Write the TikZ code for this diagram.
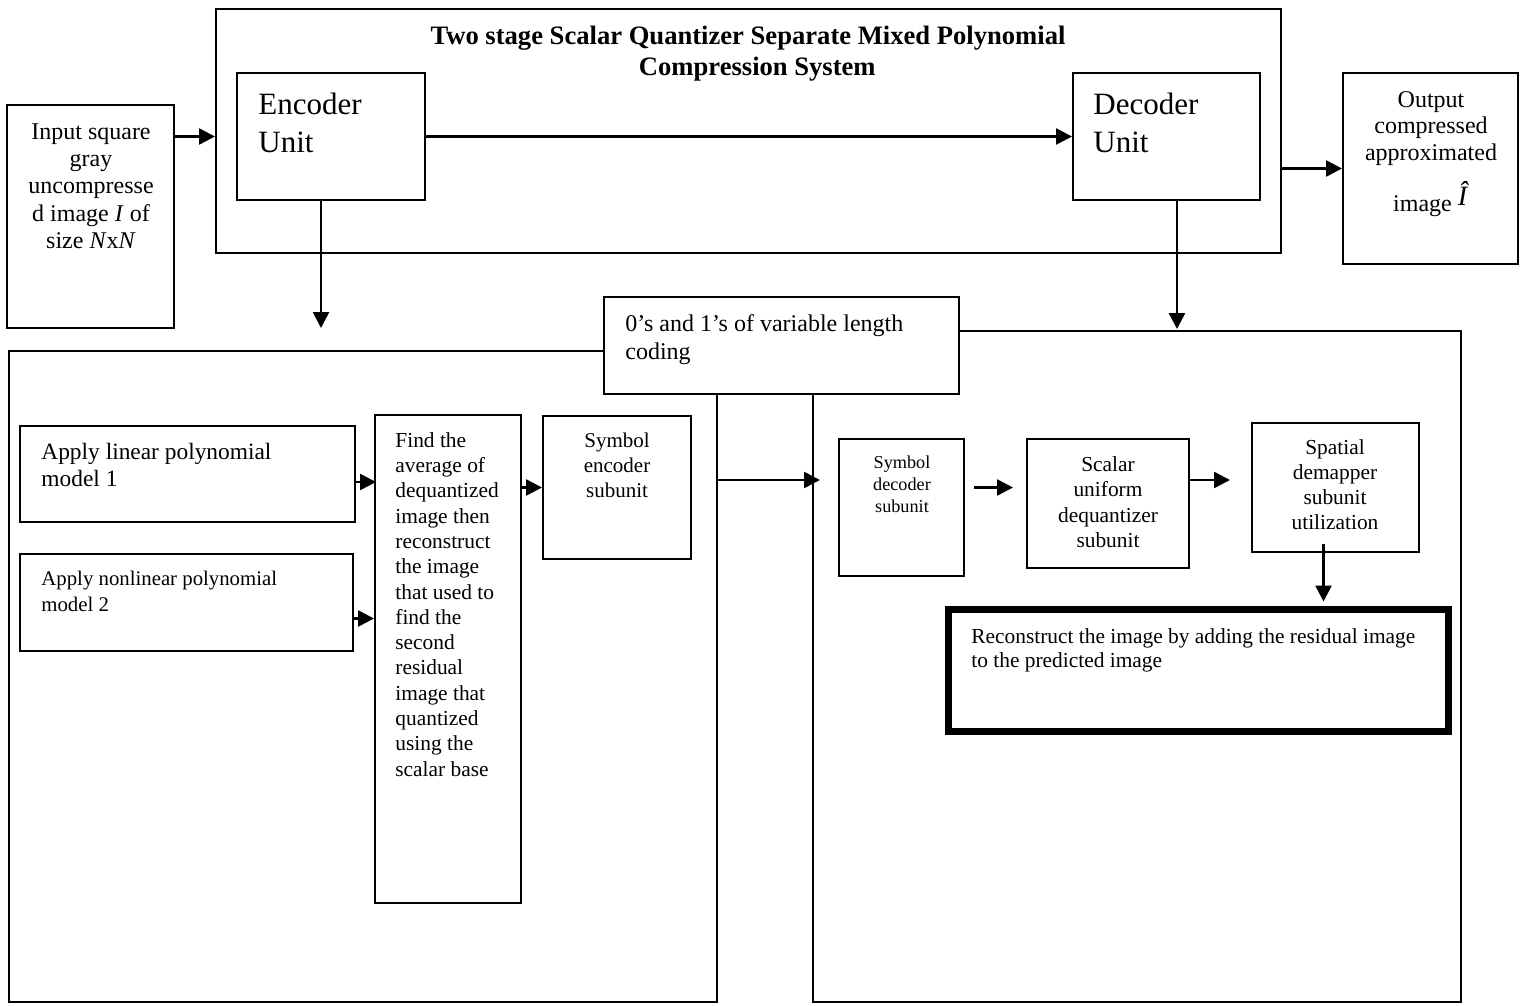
\documentclass[tikz,border=0pt]{standalone}
\usepackage{fontspec}
\setmainfont{Liberation Serif}
\usetikzlibrary{arrows.meta,fit}

\begin{document}
\begin{tikzpicture}[x=0.5pt,y=-0.5pt,
  box/.style={draw, line width=1pt, inner sep=0pt, fill=white},
  arr/.style={line width=1.3pt, -{Triangle[length=8pt,width=8pt]}},
  txt/.style={inner sep=0pt, align=#1},
  txt/.default=center]
\useasboundingbox (0,0) rectangle (1520,1006);
\node[box, fit={(216,9) (1281,253)}] (sys) {};
\node[box, fit={(7,105) (174,328)}] (inp) {};
\node[box, fit={(237,73) (425,200)}] (enc) {};
\node[box, fit={(1073,73) (1260,200)}] (dec) {};
\node[box, fit={(1343,73) (1518,264)}] (out) {};
\node[box, fit={(9,351) (717,1002)}] (lbox) {};
\node[box, fit={(813,331) (1461,1002)}] (rbox) {};
\node[box, fit={(604,297) (959,394)}] (code) {};
\node[box, fit={(20,426) (355,522)}] (lin) {};
\node[box, fit={(20,554) (353,651)}] (nonlin) {};
\node[box, fit={(375,415) (521,903)}] (find) {};
\node[box, fit={(543,416) (691,559)}] (symenc) {};
\node[box, fit={(839,439) (964,576)}] (symdec) {};
\node[box, fit={(1027,439) (1189,568)}] (scalar) {};
\node[box, fit={(1252,423) (1419,552)}] (spatial) {};
\node[box, line width=3.5pt, fit={(948,609) (1448,731)}] (recon) {};

\node[txt, font=\bfseries\fontsize{13.3}{15.5}\selectfont, anchor=north] (title) at (748,26) {Two stage Scalar Quantizer Separate Mixed Polynomial\\\hspace*{0.7em}Compression System};
\node[txt=left, font=\fontsize{15.5}{19}\selectfont, anchor=north west] (enc-t) at (258,93) {Encoder\\Unit};
\node[txt=left, font=\fontsize{15.5}{19}\selectfont, anchor=north west] (dec-t) at (1093,93) {Decoder\\Unit};
\node[txt, font=\fontsize{12}{13.7}\selectfont, anchor=north] (inp-t) at (91,123) {Input square\\gray\\uncompresse\\d image \textit{I} of\\size \textit{N}x\textit{N}};
\node[txt, font=\fontsize{12}{13.25}\selectfont, anchor=north] (out-t) at (1431,91) {Output\\compressed\\approximated\\[7pt]image~\raisebox{3pt}{\fontsize{14}{14}\selectfont\textit{Î}}};
\node[txt=left, font=\fontsize{12}{14}\selectfont, anchor=north west] (code-t) at (625,314) {0’s and 1’s of variable length\\coding};
\node[txt=left, font=\fontsize{11.7}{13.5}\selectfont, anchor=north west] (lin-t) at (41,443) {Apply linear polynomial\\model 1};
\node[txt=left, font=\fontsize{10.4}{13}\selectfont, anchor=north west] (nonlin-t) at (41,571) {Apply nonlinear polynomial\\model 2};
\node[txt=left, font=\fontsize{10.7}{12.65}\selectfont, anchor=north west] (find-t) at (395,432) {Find the\\average of\\dequantized\\image then\\reconstruct\\the image\\that used to\\find the\\second\\residual\\image that\\quantized\\using the\\scalar base};
\node[txt, font=\fontsize{10.5}{12.5}\selectfont, anchor=north] (symenc-t) at (617,433) {Symbol\\encoder\\subunit};
\node[txt, font=\fontsize{9.1}{11}\selectfont, anchor=north] (symdec-t) at (902,455) {Symbol\\decoder\\subunit};
\node[txt, font=\fontsize{10.7}{12.75}\selectfont, anchor=north] (scalar-t) at (1108,456) {Scalar\\uniform\\dequantizer\\subunit};
\node[txt, font=\fontsize{10.7}{12.5}\selectfont, anchor=north] (spatial-t) at (1335,439) {Spatial\\demapper\\subunit\\utilization};
\node[txt=left, font=\fontsize{10.7}{12}\selectfont, anchor=north west] (recon-t) at (971,628) {Reconstruct the image by adding the residual image\\to the predicted image};

\coordinate (encdrop) at (321,328);
\coordinate (decdrop) at (1177,329);
\coordinate (link) at (765,480);
\draw[arr] (inp.east |- enc.west) -- (sys.west |- enc.west);
\draw[arr] (enc.east) -- (dec.west);
\draw[arr] (sys.east |- out.west) -- (out.west);
\draw[arr] (enc.south -| encdrop) -- (encdrop);
\draw[arr] (dec.south -| decdrop) -- (decdrop);
\draw[arr, shorten >=-1pt] ([yshift=-4pt]lin.east) -- ([yshift=-4pt]lin.east -| find.west);
\draw[arr] ([yshift=-8pt]nonlin.east) -- ([yshift=-8pt]nonlin.east -| find.west);
\draw[arr] (find.east |- symenc.west) -- (symenc.west);
\draw[arr, shorten >=-4pt] (lbox.east |- link) -- (rbox.west |- link);
\draw[arr, shorten <=4.5pt, shorten >=6.5pt] ([yshift=10pt]symdec.east) -- ([yshift=10pt]symdec.east -| scalar.west);
\draw[arr, shorten >=10.5pt] (scalar.east |- link) -- (spatial.west |- link);
\draw[arr, shorten <=-4.5pt, shorten >=2pt] ([xshift=-6pt]spatial.south) -- ([xshift=-6pt]spatial.south |- recon.north);
\end{tikzpicture}
\end{document}
